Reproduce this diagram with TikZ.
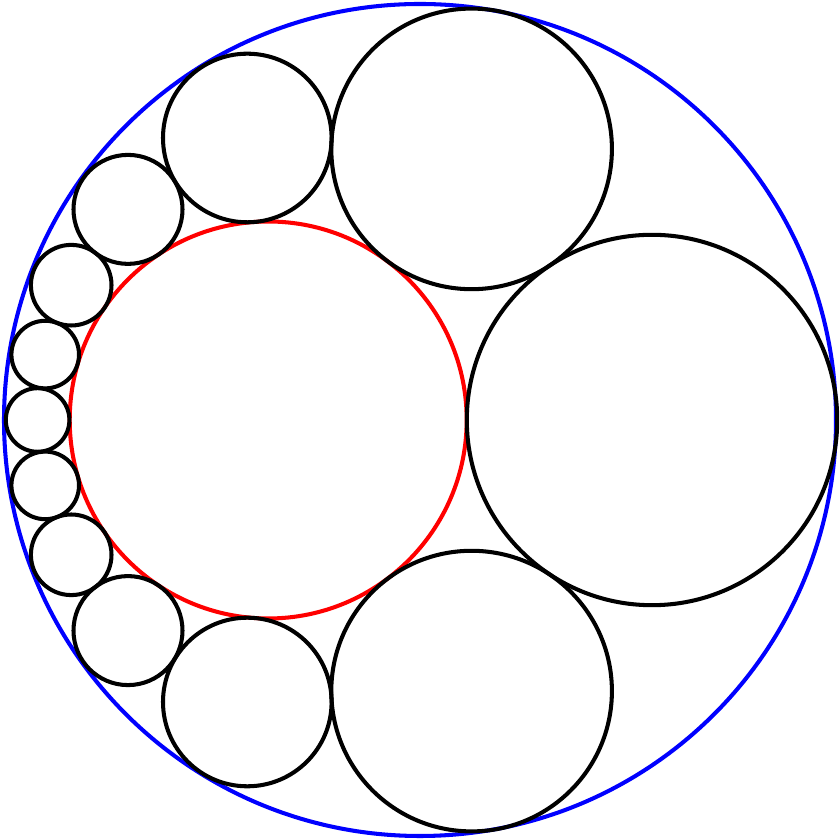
\documentclass[tikz,border=0pt]{standalone}
\usetikzlibrary{backgrounds}
\begin{document}
\begin{tikzpicture}[
    x=0.01cm, y=0.01cm,
    bcirc/.style={draw=blue,line width=1.15pt},
    rcirc/.style={draw=red,line width=1.15pt},
    kcirc/.style={draw=black,line width=1.15pt},
    ]

    %frame
    \fill[white] (0,0) rectangle (840,840);
    \useasboundingbox (0,0) rectangle (840,840);

    %outer and inner circle
    \draw[bcirc] (420,420) circle (416);
    \draw[rcirc] (268.2,420) circle (198.5);

    %chain, right
    \draw[kcirc] (652.0,420) circle (185.2);

    %chain, upper half
    \draw[kcirc] (471.6,691.1) circle (140.3);
    \draw[kcirc] (247.3,702.0) circle (84.3);
    \draw[kcirc] (128.0,630.6) circle (54.5);
    \draw[kcirc] (71.2,554.8) circle (40.3);
    \draw[kcirc] (45.2,485.4) circle (33.8);

    %chain, left
    \draw[kcirc] (37.6,420) circle (31.8);

    %chain, lower half
    \draw[kcirc] (45.2,354.6) circle (33.8);
    \draw[kcirc] (71.2,285.2) circle (40.3);
    \draw[kcirc] (128.0,209.4) circle (54.5);
    \draw[kcirc] (247.3,138.0) circle (84.3);
    \draw[kcirc] (471.6,148.9) circle (140.3);

\end{tikzpicture}
\end{document}
